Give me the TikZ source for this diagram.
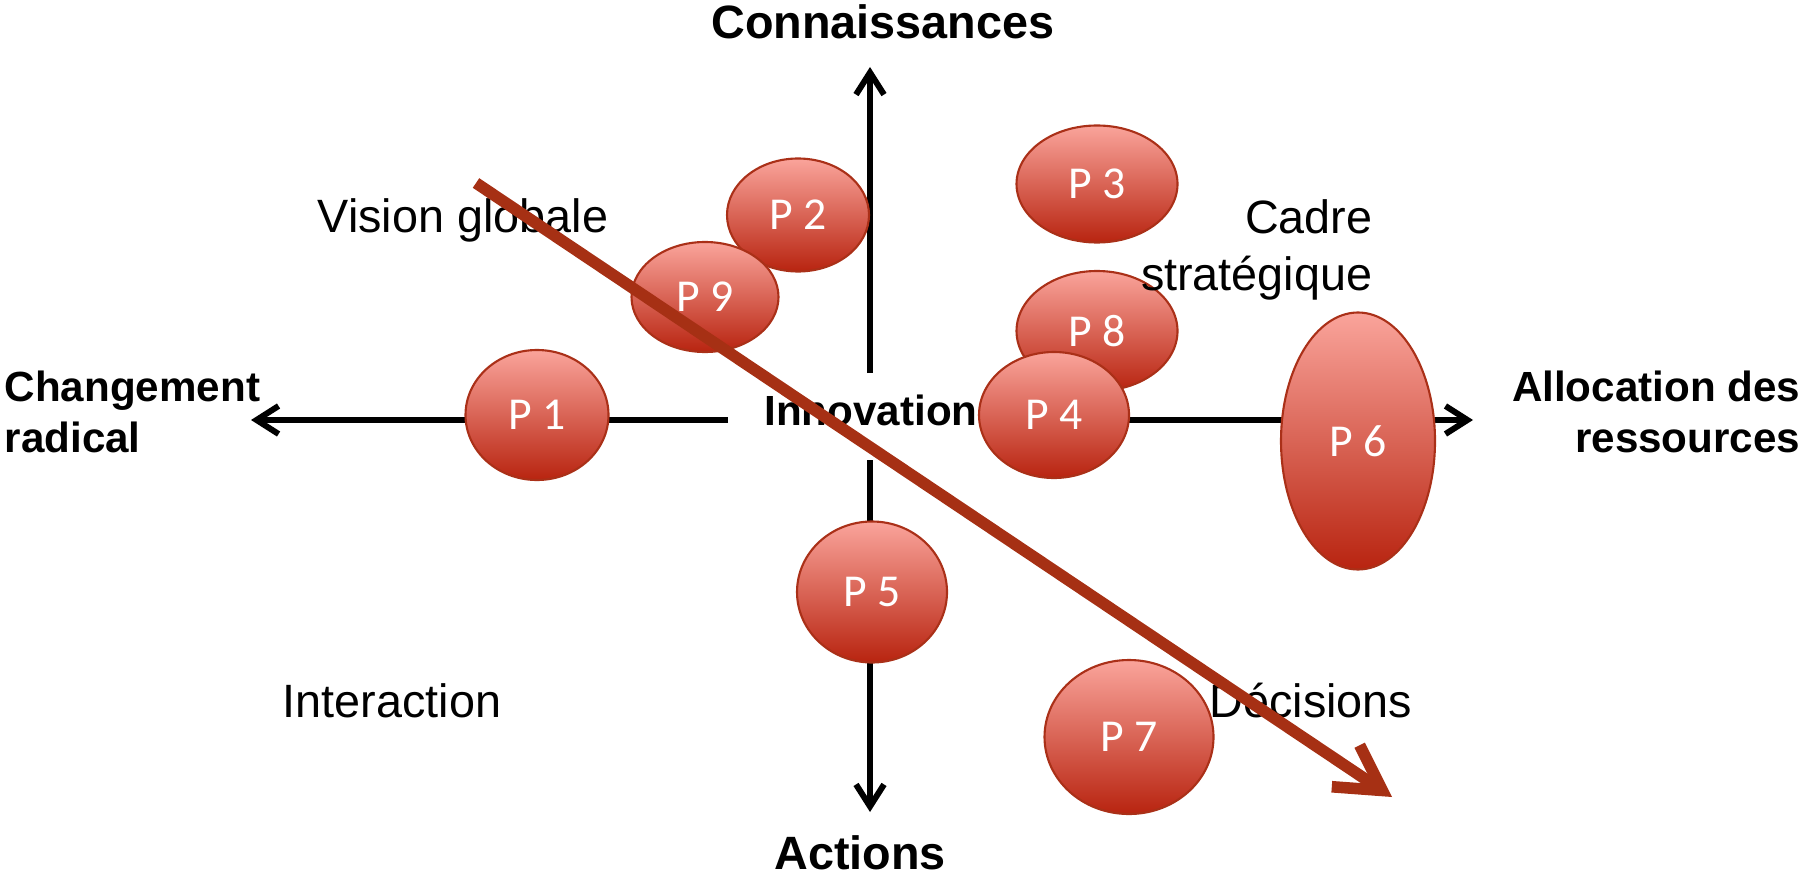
\documentclass[tikz,border=0pt]{standalone}
\usepackage{fontspec}
\setmainfont{Liberation Sans}
\newfontfamily\pfont{Carlito}
\usetikzlibrary{shapes.geometric, arrows.meta}
\definecolor{ptop}{RGB}{250,164,155}
\definecolor{pbot}{RGB}{184,36,16}
\definecolor{pline}{RGB}{170,48,24}
\definecolor{trend}{RGB}{166,48,20}

\begin{document}
\begin{tikzpicture}[x = 1cm, y = 1cm,
    axisline/.style = {line width = 1.7pt, -{Straight Barb[length = 2.2mm, width = 2.8mm]}},
    pnode/.style = {shape = ellipse, draw = pline, line width = 0.6pt, top color = ptop, bottom color = pbot, inner sep = 0pt, text = white, font = \pfont\fontsize{13}{15}\selectfont},
    bigword/.style = {inner sep = 0pt, font = \bfseries\fontsize{13.3}{16}\selectfont},
    midword/.style = {inner sep = 0pt, font = \bfseries\fontsize{12}{14.5}\selectfont},
    word/.style = {inner sep = 0pt, font = \fontsize{13.3}{16.2}\selectfont}]
    \useasboundingbox (0,0) rectangle (18.05,8.77);
    \coordinate (NT) at (8.70,8.10);
    \coordinate (NB) at (8.70,5.04);
    \coordinate (ST) at (8.70,4.17);
    \coordinate (SB) at (8.70,0.65);
    \coordinate (WR) at (7.28,4.57);
    \coordinate (WL) at (2.51,4.57);
    \coordinate (EL) at (10.50,4.57);
    \coordinate (ER) at (14.73,4.57);
    \draw[axisline] (NB) -- (NT);
    \draw[axisline] (ST) -- (SB);
    \draw[axisline] (WR) -- (WL);
    \draw[axisline] (EL) -- (ER);
    \node[midword, anchor = base] (INNO) at (8.71,4.52) {Innovation};
    \node[pnode, minimum width = 1.43cm, minimum height = 1.30cm] (P1) at (5.37,4.62) {P 1};
    \node[pnode, minimum width = 1.42cm, minimum height = 1.13cm] (P2) at (7.98,6.62) {P 2};
    \node[pnode, minimum width = 1.47cm, minimum height = 1.10cm] (P9) at (7.05,5.80) {P 9};
    \node[pnode, minimum width = 1.61cm, minimum height = 1.17cm] (P3) at (10.97,6.93) {P 3};
    \node[pnode, minimum width = 1.61cm, minimum height = 1.20cm] (P8) at (10.97,5.46) {P 8};
    \node[pnode, minimum width = 1.50cm, minimum height = 1.26cm] (P4) at (10.54,4.62) {P 4};
    \node[pnode, minimum width = 1.54cm, minimum height = 2.57cm] (P6) at (13.58,4.36) {P 6};
    \node[pnode, minimum width = 1.50cm, minimum height = 1.41cm] (P5) at (8.72,2.85) {P 5};
    \node[pnode, minimum width = 1.69cm, minimum height = 1.54cm] (P7) at (11.29,1.40) {P 7};
    \node[bigword, anchor = base] (CON) at (8.83,8.38) {Connaissances};
    \node[bigword, anchor = base] (ACT) at (8.60,0.08) {Actions};
    \node[midword, align = left, anchor = west] (CHG) at (0.04,4.65) {Changement\\radical};
    \node[midword, align = right, anchor = east] (ALL) at (18.01,4.65) {Allocation des\\ressources};
    \node[word, anchor = base] (VIS) at (4.63,6.44) {Vision globale};
    \node[word, align = right, anchor = east] (CAD) at (13.73,6.27) {Cadre\\stratégique};
    \node[word, anchor = base] (INT) at (3.92,1.60) {Interaction};
    \node[word, anchor = base] (DEC) at (13.11,1.60) {Décisions};
    \coordinate (TS) at (4.76,6.94);
    \coordinate (TE) at (13.92,0.80);
    \draw[trend, line width = 3.3pt, -{Straight Barb[length = 4.4mm, width = 5mm]}] (TS) -- (TE);
\end{tikzpicture}
\end{document}
